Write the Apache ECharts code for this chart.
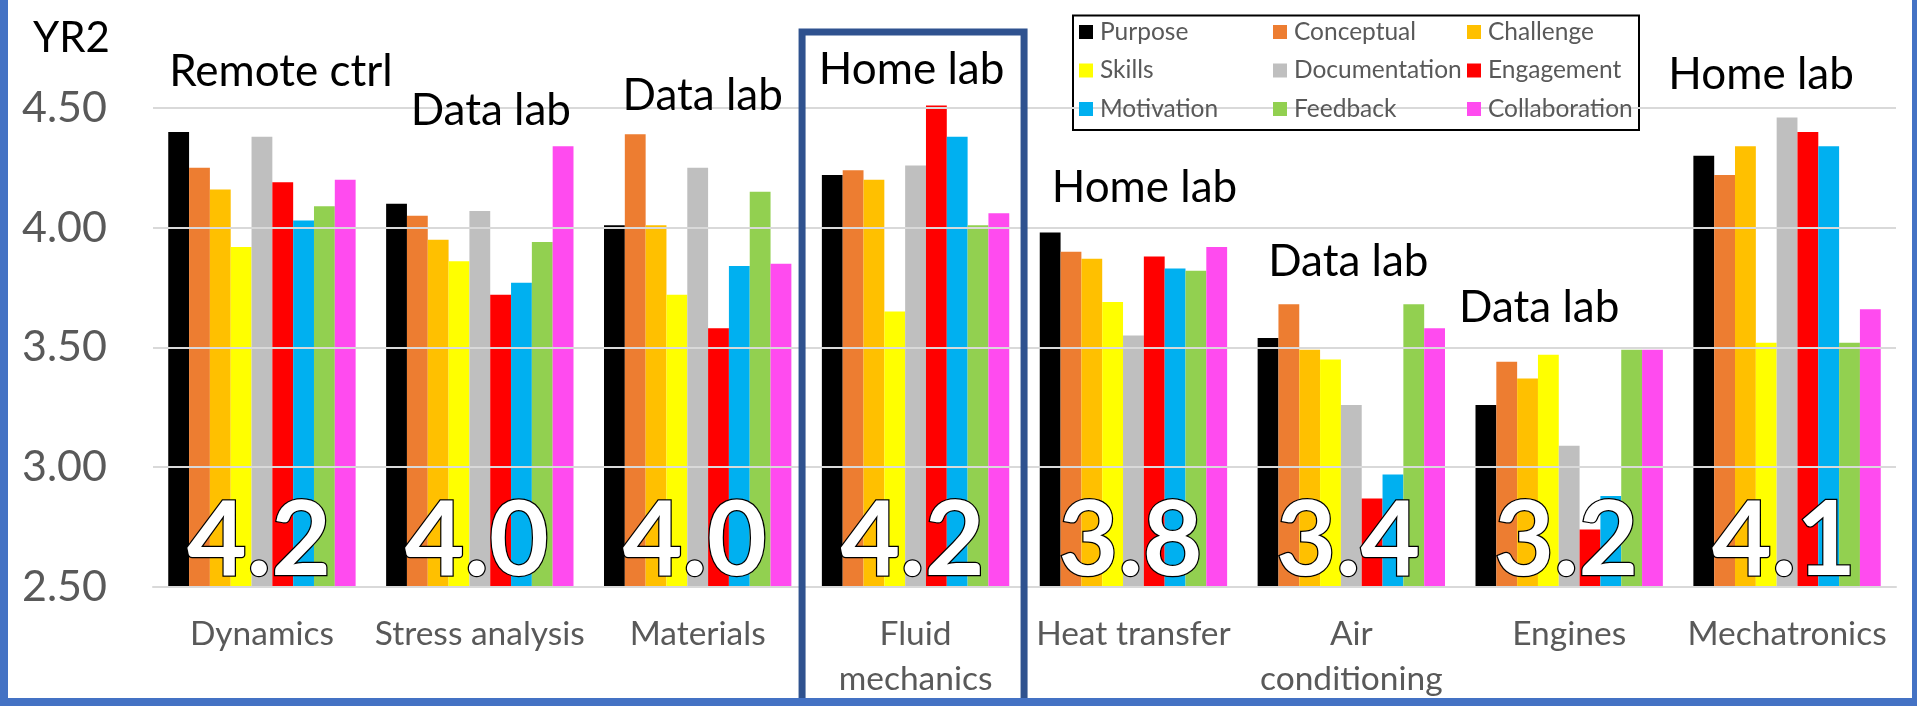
<!DOCTYPE html>
<html>
<head>
<meta charset="utf-8">
<script src="https://cdn.jsdelivr.net/npm/echarts@6/dist/echarts.min.js"></script>
<style>
  html, body { margin: 0; padding: 0; background: #ffffff; }
  #chart { width: 1917px; height: 706px; }
</style>
</head>
<body>
<div id="chart"></div>
<script>
// Courses (categories) and the type of lab used in each
const courses = ['Dynamics', 'Stress analysis', 'Materials', 'Fluid\nmechanics', 'Heat transfer', 'Air\nconditioning', 'Engines', 'Mechatronics'];
const labTypes = ['Remote ctrl', 'Data lab', 'Data lab', 'Home lab', 'Home lab', 'Data lab', 'Data lab', 'Home lab'];

// Year-2 survey scores per item, one value per course
const purpose       = [4.40, 4.10, 4.01, 4.22, 3.98, 3.54, 3.26, 4.30];
const conceptual    = [4.25, 4.05, 4.39, 4.24, 3.90, 3.68, 3.44, 4.22];
const challenge     = [4.16, 3.95, 4.01, 4.20, 3.87, 3.49, 3.37, 4.34];
const skills        = [3.92, 3.86, 3.72, 3.65, 3.69, 3.45, 3.47, 3.52];
const documentation = [4.38, 4.07, 4.25, 4.26, 3.55, 3.26, 3.09, 4.46];
const engagement    = [4.19, 3.72, 3.58, 4.51, 3.88, 2.87, 2.74, 4.40];
const motivation    = [4.03, 3.77, 3.84, 4.38, 3.83, 2.97, 2.88, 4.34];
const feedback      = [4.09, 3.94, 4.15, 4.01, 3.82, 3.68, 3.49, 3.52];
const collaboration = [4.20, 4.34, 3.85, 4.06, 3.92, 3.58, 3.49, 3.66];

const seriesNames = ['Purpose', 'Conceptual', 'Challenge', 'Skills', 'Documentation', 'Engagement', 'Motivation', 'Feedback', 'Collaboration'];
const seriesValues = [purpose, conceptual, challenge, skills, documentation, engagement, motivation, feedback, collaboration];

// Value axis: labelled ticks, plus a little headroom above the last one
const yTicks = [2.5, 3.0, 3.5, 4.0, 4.5];
const yMin = 2.5;
const yMax = 4.6;
const yStep = 0.5;

// Course highlighted with a frame
const highlighted = 3;

// Styling
const palette = ['#000000', '#ED7D31', '#FFC000', '#FFFF00', '#BFBFBF', '#FF0000', '#00B0F0', '#92D050', '#FF4BEF'];
const FONT = 'Lato, "Open Sans", sans-serif';
const gridColor = '#D9D9D9';
const labelColor = '#595959';
const captionSize = 44;
const scoreSize = 103;

// Lab-type caption placement: [x offset from course centre, baseline y]
const captionLayout = [[19, 89], [11, 128], [5, 113], [-4, 87], [11, 205], [-3, 279], [-30, 325], [-26, 92]];

// Legend: three columns inside one framed box
const legendColumnsX = [1079, 1273, 1467];
const legendBox = { x: 1073, y: 15.5, width: 566, height: 114.5 };

const chart = echarts.init(document.getElementById('chart'), null, { renderer: 'canvas' });

const barSeries = seriesNames.map((name, i) => ({
  name: name,
  type: 'bar',
  data: seriesValues[i],
  barGap: '0%',
  barCategoryGap: '14%',
  z: 2,
  itemStyle: { color: palette[i] }
}));

// Horizontal gridlines at the labelled ticks only, kept behind the bars
const gridSeries = {
  name: 'grid',
  type: 'line',
  data: courses.map(() => null),
  z: 1,
  silent: true,
  markLine: {
    silent: true,
    symbol: ['none', 'none'],
    label: { show: false },
    lineStyle: { color: gridColor, width: 2, type: 'solid' },
    data: yTicks.map(v => ({ yAxis: v }))
  }
};

const legends = legendColumnsX.map((x, col) => ({
  data: seriesNames.filter((_, i) => i % 3 === col),
  orient: 'vertical',
  left: x,
  top: 19,
  padding: 0,
  z: 20,
  icon: 'rect',
  itemWidth: 14,
  itemHeight: 14,
  itemGap: 12.5,
  selectedMode: false,
  textStyle: { color: labelColor, fontFamily: FONT, fontSize: 24.5, lineHeight: 26, padding: [0, 0, 0, 2] }
}));

const option = {
  animation: false,
  backgroundColor: '#ffffff',
  title: {
    text: 'YR2',
    left: 33,
    top: 17,
    padding: 0,
    textAlign: 'left',
    textStyle: { color: '#000000', fontFamily: FONT, fontSize: 42, fontWeight: 'normal', lineHeight: 42 }
  },
  grid: { left: 153, right: 21, top: 84, bottom: 119, containLabel: false },
  legend: legends,
  xAxis: {
    type: 'category',
    data: courses,
    axisTick: { show: false },
    axisLine: { show: true, lineStyle: { color: gridColor, width: 2 } },
    axisLabel: { interval: 0, color: labelColor, fontFamily: FONT, fontSize: 33.5, lineHeight: 45, margin: 25 }
  },
  yAxis: {
    type: 'value',
    min: yMin,
    max: yMax,
    interval: yStep,
    axisLine: { show: false },
    axisTick: { show: false },
    splitLine: { show: false },
    axisLabel: { showMaxLabel: false, color: labelColor, fontFamily: FONT, fontSize: 43, margin: 46, formatter: v => v.toFixed(2) }
  },
  series: [gridSeries].concat(barSeries)
};

chart.setOption(option);

// Overall course score: mean of the nine items
const courseMeans = courses.map((_, c) => {
  let s = 0;
  seriesValues.forEach(arr => { s += arr[c]; });
  return s / seriesValues.length;
});

function drawOverlays() {
  const W = chart.getWidth();
  const H = chart.getHeight();
  const baseY = chart.convertToPixel({ yAxisIndex: 0 }, yMin);
  const elements = [];

  courses.forEach((_, c) => {
    const cx = chart.convertToPixel({ xAxisIndex: 0 }, c);
    // big overall score
    elements.push({
      type: 'text', z: 100,
      x: cx - 3, y: baseY - 5 - 0.387 * scoreSize,
      style: {
        text: courseMeans[c].toFixed(1),
        fill: '#ffffff', stroke: '#000000', lineWidth: 2.5,
        font: 'bold ' + scoreSize + 'px ' + FONT,
        align: 'center', verticalAlign: 'middle'
      }
    });
    // lab-type caption
    const lay = captionLayout[c];
    elements.push({
      type: 'text', z: 100,
      x: cx + lay[0], y: lay[1] - 0.387 * captionSize,
      style: {
        text: labTypes[c], fill: '#000000',
        font: captionSize + 'px ' + FONT,
        align: 'center', verticalAlign: 'middle'
      }
    });
  });

  // frame around the highlighted course
  const hx = chart.convertToPixel({ xAxisIndex: 0 }, highlighted);
  elements.push({
    type: 'rect', z: 90,
    shape: { x: hx - 113.5, y: 32, width: 222, height: H - 32 },
    style: { fill: 'none', stroke: '#2F528F', lineWidth: 7 }
  });

  // legend frame, drawn under the legend items and over the gridlines
  elements.push({
    type: 'rect', z: 3,
    shape: legendBox,
    style: { fill: '#ffffff', stroke: '#000000', lineWidth: 2 }
  });

  // outer border (left, right, bottom)
  const border = '#4472C4';
  elements.push({ type: 'rect', z: 110, shape: { x: 0, y: 0, width: 8, height: H }, style: { fill: border } });
  elements.push({ type: 'rect', z: 110, shape: { x: W - 5, y: 0, width: 5, height: H }, style: { fill: border } });
  elements.push({ type: 'rect', z: 110, shape: { x: 0, y: H - 8, width: W, height: 8 }, style: { fill: border } });

  chart.setOption({ graphic: { elements: elements } });
}

drawOverlays();
</script>
</body>
</html>
